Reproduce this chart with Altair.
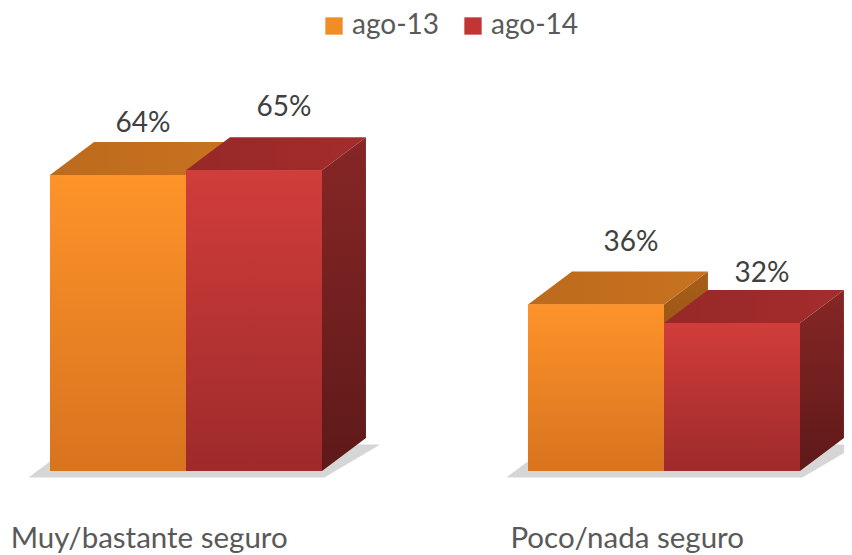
import altair as alt
import pandas as pd

# ---- data ----
categories = ["Muy/bastante seguro", "Poco/nada seguro"]
series = ["ago-13", "ago-14"]
ago13 = [64, 36]
ago14 = [65, 32]
values = {"ago-13": ago13, "ago-14": ago14}

# ---- layout constants ----
PX_Y = 4.625        # pixels per percentage point
PX_X = 478.0        # pixels per group step
BAR_W = 0.2845      # width of one bar (x units, groups are 1 apart)
DX = 0.092          # 3D depth in x units
DY = 7.14           # 3D depth in y (%) units
CAT_SHIFT = -0.077  # category label offset from group centre
CAT_Y = -16.6
# label nudges in pixels (x right, y up) as placed in the reference
LABEL_NUDGE = {"ago-13": [(3, 10), (13, 20)], "ago-14": [(8, 21), (8, 8)]}

front_rows, top_rows, side_rows, label_rows, shadow_rows, cat_rows = [], [], [], [], [], []
for g, cat in enumerate(categories):
    gl = g - BAR_W
    gr = g + BAR_W
    shadow_rows += [dict(key=f"s{g}", y=-1.4, x=gl - 0.045, x2=gr + 0.005),
                    dict(key=f"s{g}", y=DY - 1.4, x=gl + DX - 0.045, x2=gr + DX + 0.03)]
    cat_rows.append(dict(x=g + CAT_SHIFT, y=CAT_Y, text=cat))
    for s, ser in enumerate(series):
        v = values[ser][g]
        left = g - BAR_W + s * BAR_W
        right = left + BAR_W
        key = f"{g}-{s}"
        front_rows.append(dict(key=key, series=ser, x=left, x2=right, y=v, y2=0))
        top_rows += [dict(key=key, series=ser, y=v, x=left, x2=right),
                     dict(key=key, series=ser, y=v + DY, x=left + DX, x2=right + DX)]
        side_rows += [dict(key=key, series=ser, x=right, y=0, y2=v),
                      dict(key=key, series=ser, x=right + DX, y=DY, y2=v + DY)]
        nx, ny = LABEL_NUDGE[ser][g]
        label_rows.append(dict(series=ser,
                               x=(left + right) / 2 + DX / 2 + nx / PX_X,
                               y=v + DY + ny / PX_Y, text=f"{v}%"))

front_df = pd.DataFrame(front_rows)
top_df = pd.DataFrame(top_rows)
side_df = pd.DataFrame(side_rows)
label_df = pd.DataFrame(label_rows)
shadow_df = pd.DataFrame(shadow_rows)
cat_df = pd.DataFrame(cat_rows)

xs = alt.Scale(domain=[-0.3724, 1.3766], nice=False, zero=False)
ys = alt.Scale(domain=[-18.16, 100.1], nice=False, zero=False)


def grad(c_top, c_bot, horizontal=False):
    if horizontal:
        return alt.Gradient(gradient="linear", x1=0, y1=0, x2=1, y2=0,
                            stops=[alt.GradientStop(color=c_top, offset=0),
                                   alt.GradientStop(color=c_bot, offset=1)])
    return alt.Gradient(gradient="linear", x1=0, y1=0, x2=0, y2=1,
                        stops=[alt.GradientStop(color=c_top, offset=0),
                               alt.GradientStop(color=c_bot, offset=1)])


styles = {
    "ago-13": dict(front=("#FD9329", "#D8731F"), top=("#BC6A1C", "#C7721F"),
                   side=("#A85E19", "#7E4512")),
    "ago-14": dict(front=("#D13D3B", "#9E2A2B"), top=("#972828", "#A42C2C"),
                   side=("#872626", "#5E1919")),
}

layers = []

# shadow
layers.append(
    alt.Chart(shadow_df).mark_area(orient="horizontal", color="#b5b5b5", opacity=0.55)
    .encode(y=alt.Y("y:Q", scale=ys, axis=None),
            x=alt.X("x:Q", scale=xs, axis=None, stack=None),
            x2="x2:Q", detail="key:N")
)

# solid front faces carrying the legend
layers.append(
    alt.Chart(front_df).mark_rect()
    .encode(x=alt.X("x:Q", scale=xs, axis=None), x2="x2:Q",
            y=alt.Y("y:Q", scale=ys, axis=None), y2="y2:Q",
            color=alt.Color("series:N",
                            scale=alt.Scale(domain=series, range=["#F28C25", "#C23535"]),
                            legend=alt.Legend(orient="none", legendX=312, legendY=4,
                                              direction="horizontal", title=None,
                                              labelFont="Lato", labelFontSize=28,
                                              labelColor="#595959", symbolSize=300,
                                              symbolType="square", labelOffset=4,
                                              columnPadding=19, padding=0,
                                              labelLimit=300,
                                              symbolStrokeWidth=0)))
)

for ser in series:
    st = styles[ser]
    sd = side_df[side_df.series == ser]
    td = top_df[top_df.series == ser]
    fd = front_df[front_df.series == ser]
    layers.append(
        alt.Chart(sd).mark_area(orient="vertical", color=grad(*st["side"]))
        .encode(x=alt.X("x:Q", scale=xs, axis=None),
                y=alt.Y("y:Q", scale=ys, axis=None, stack=None), y2="y2:Q",
                detail="key:N")
    )
    layers.append(
        alt.Chart(td).mark_area(orient="horizontal", color=grad(*st["top"], horizontal=True))
        .encode(y=alt.Y("y:Q", scale=ys, axis=None),
                x=alt.X("x:Q", scale=xs, axis=None, stack=None), x2="x2:Q",
                detail="key:N")
    )
    layers.append(
        alt.Chart(fd).mark_rect(color=grad(*st["front"]))
        .encode(x=alt.X("x:Q", scale=xs, axis=None), x2="x2:Q",
                y=alt.Y("y:Q", scale=ys, axis=None), y2="y2:Q")
    )

# value labels
layers.append(
    alt.Chart(label_df).mark_text(font="Lato", fontSize=28, color="#404040",
                                  baseline="alphabetic")
    .encode(x=alt.X("x:Q", scale=xs, axis=None), y=alt.Y("y:Q", scale=ys, axis=None),
            text="text:N")
)

# category labels
layers.append(
    alt.Chart(cat_df).mark_text(font="Lato", fontSize=29.5, color="#595959",
                                baseline="alphabetic")
    .encode(x=alt.X("x:Q", scale=xs, axis=None), y=alt.Y("y:Q", scale=ys, axis=None),
            text="text:N")
)

chart = alt.layer(*layers).properties(
    width=836, height=547,
    autosize=alt.AutoSizeParams(type="none"),
    padding=0,
    background="white",
).configure_view(stroke=None)

chart.save("out.html", embed_options={"renderer": "svg", "actions": False})
